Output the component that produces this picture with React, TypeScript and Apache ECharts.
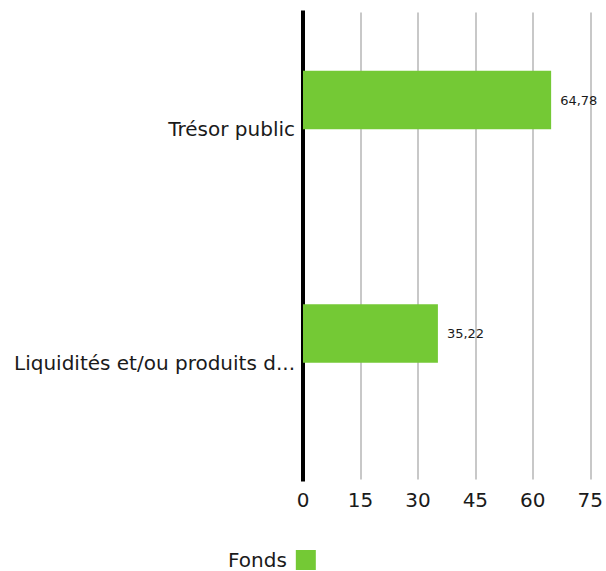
import React, { useEffect, useRef } from "react";
import * as echarts from "echarts";

const categories = ["Trésor public", "Liquidités et/ou produits du marché monétaire"];
const fondsValues = [64.78, 35.22];
const xTicks = [0, 15, 30, 45, 60, 75];

const FONT = "'DejaVu Sans', sans-serif";
const TEXT = "#1a1a1a";

export default function App() {
  const ref = useRef<HTMLDivElement>(null);
  useEffect(() => {
    document.body.style.margin = "0";
    const chart = echarts.init(ref.current!, null, { renderer: "svg" });
    chart.setOption({
      animation: false,
      textStyle: { fontFamily: FONT },
      grid: { left: 303, right: 12, top: 12.5, bottom: 91.5, containLabel: false },
      legend: {
        data: ["Fonds"],
        left: 228,
        top: 550,
        padding: 0,
        align: "right",
        itemWidth: 20,
        itemHeight: 20,
        itemGap: 10,
        icon: "rect",
        textStyle: {
          fontSize: 20,
          lineHeight: 20,
          color: TEXT,
          fontFamily: FONT,
          padding: [0, 4, 0, 0],
        },
      },
      xAxis: {
        type: "value",
        min: xTicks[0],
        max: xTicks[xTicks.length - 1],
        interval: 15,
        axisLine: { show: false },
        axisTick: { show: false },
        splitLine: { show: true, lineStyle: { color: "#c8c8c8", width: 2 } },
        axisLabel: { fontSize: 20, color: TEXT, margin: 10, fontFamily: FONT },
      },
      yAxis: {
        type: "category",
        data: categories,
        inverse: true,
        axisLine: { show: true, lineStyle: { color: "#000", width: 4, cap: "square" } },
        axisTick: { show: false },
        axisLabel: {
          fontSize: 20,
          color: TEXT,
          margin: 8,
          width: 287,
          overflow: "truncate",
          ellipsis: "...",
          fontFamily: FONT,
        },
      },
      series: [
        {
          name: "Fonds",
          type: "bar",
          data: fondsValues,
          barWidth: 58.5,
          barGap: "0%",
          itemStyle: { color: "#74C935" },
          label: {
            show: true,
            position: "right",
            distance: 9,
            fontSize: 13,
            color: TEXT,
            fontFamily: FONT,
            formatter: (p: any) => String(p.value.toFixed(2)).replace(".", ","),
          },
        },
        {
          name: "Indice",
          type: "bar",
          data: [],
          barWidth: 58.5,
          barGap: "0%",
          itemStyle: { color: "#000" },
        },
      ],
    });
    return () => chart.dispose();
  }, []);
  return <div ref={ref} style={{ width: 606, height: 571 }} />;
}
